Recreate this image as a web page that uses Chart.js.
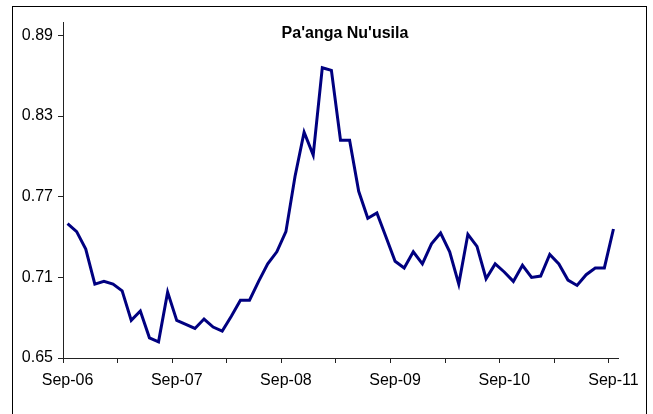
<!DOCTYPE html>
<html>
<head>
<meta charset="utf-8">
<script src="https://cdn.jsdelivr.net/npm/chart.js@4/dist/chart.umd.min.js"></script>
<style>
  body { margin: 0; background: #fff; }
  canvas { display: block; }
</style>
</head>
<body>
<canvas id="rate-chart" width="653" height="414"></canvas>
<script>
// monthly rate, Sep-06 .. Sep-11
const months = ['Jan','Feb','Mar','Apr','May','Jun','Jul','Aug','Sep','Oct','Nov','Dec'];
const startYear = 2006, startMonth = 8, monthCount = 61;

const rates = [
    0.750, 0.744, 0.731, 0.705, 0.707, 0.705, 0.700, 0.678, 0.685, 0.665, 0.662, 0.699,
    0.678, 0.675, 0.672, 0.679, 0.673, 0.670, 0.681, 0.693, 0.693, 0.707, 0.720, 0.729,
    0.744, 0.785, 0.818, 0.801, 0.866, 0.864, 0.812, 0.812, 0.774, 0.754, 0.758, 0.740,
    0.722, 0.717, 0.729, 0.720, 0.735, 0.743, 0.729, 0.705, 0.742, 0.733, 0.709, 0.720,
    0.714, 0.707, 0.719, 0.710, 0.711, 0.727, 0.720, 0.708, 0.704, 0.712, 0.717, 0.717,
    0.746
];

const yTicks = [0.65, 0.71, 0.77, 0.83, 0.89];
const yMin = 0.65, yMax = 0.90;

const titleText = "Pa'anga Nu'usila";

let labels = [];
for (let i = 0; i < monthCount; i++) {
    let m = (startMonth + i) % 12;
    let y = startYear + Math.floor((startMonth + i) / 12);
    labels.push(months[m] + '-' + String(y % 100).padStart(2, '0'));
}

const fontFamily = '"Liberation Sans", Arial, sans-serif';
const axisColor = '#222';

// outer frame + title drawn inside the plot
const decorations = {
    id: 'decorations',
    afterDraw(chart) {
        const ctx = chart.ctx;
        ctx.save();
        ctx.strokeStyle = '#000';
        ctx.lineWidth = 1;
        ctx.strokeRect(12.5, 6.5, 634, 430);
        ctx.fillStyle = '#000';
        ctx.font = 'bold 16px ' + fontFamily;
        ctx.textAlign = 'center';
        ctx.textBaseline = 'alphabetic';
        ctx.fillText(titleText, 345, 38);
        ctx.restore();
    }
};

new Chart(document.querySelector('#rate-chart').getContext('2d'), {
    type: 'line',
    data: {
        labels: labels,
        datasets: [{
            data: rates,
            borderColor: '#000080',
            borderWidth: 3,
            pointRadius: 0,
            tension: 0,
            fill: false
        }]
    },
    options: {
        responsive: false,
        animation: false,
        layout: { padding: { top: 22, right: 35, bottom: 0, left: 0 } },
        plugins: {
            legend: { display: false },
            tooltip: { enabled: false }
        },
        scales: {
            x: {
                offset: true,
                afterFit: s => { s.height = 56; },
                border: { display: true, color: axisColor, width: 1 },
                grid: {
                    offset: true,
                    drawOnChartArea: false,
                    tickLength: 5,
                    color: c => (c.index !== undefined && c.index % 6 === 0) ? axisColor : 'rgba(0,0,0,0)'
                },
                ticks: {
                    autoSkip: false,
                    maxRotation: 0,
                    padding: 8,
                    color: '#000',
                    font: { family: fontFamily, size: 16 },
                    callback: (v, i) => i % 12 === 0 ? labels[i] : ''
                }
            },
            y: {
                min: yMin,
                max: yMax,
                afterFit: s => { s.width = 63; },
                afterBuildTicks: s => { s.ticks = yTicks.map(v => ({ value: v })); },
                border: { display: true, color: axisColor, width: 1 },
                grid: {
                    drawOnChartArea: false,
                    tickLength: 5,
                    color: axisColor
                },
                ticks: {
                    padding: 5,
                    color: '#000',
                    font: { family: fontFamily, size: 16 },
                    callback: v => v.toFixed(2)
                }
            }
        }
    },
    plugins: [decorations]
});
</script>
</body>
</html>
